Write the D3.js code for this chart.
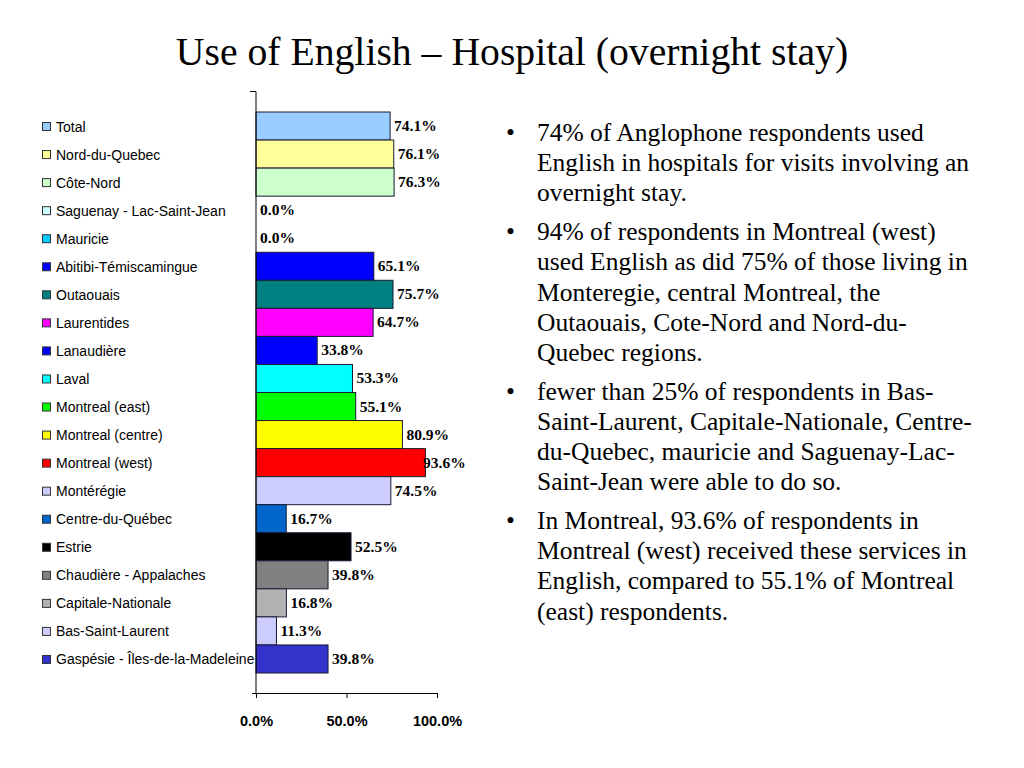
<!DOCTYPE html>
<html lang="en">
<head>
  <meta charset="UTF-8">
  <title>Use of English – Hospital (overnight stay)</title>
  <script src="https://d3js.org/d3.v7.min.js"></script>
  <style>
    body {
      margin: 0;
      overflow: hidden;
      background: #fff;
    }
    svg {
      display: block;
    }
  </style>
</head>
<body>
  <svg id="container"></svg>

  <script>
    // Chart data
    const regions = [
      "Total", "Nord-du-Quebec", "Côte-Nord", "Saguenay - Lac-Saint-Jean", "Mauricie",
      "Abitibi-Témiscamingue", "Outaouais", "Laurentides", "Lanaudière", "Laval",
      "Montreal (east)", "Montreal (centre)", "Montreal (west)", "Montérégie", "Centre-du-Québec",
      "Estrie", "Chaudière - Appalaches", "Capitale-Nationale", "Bas-Saint-Laurent",
      "Gaspésie - Îles-de-la-Madeleine"
    ];
    const values = [
      0.741, 0.761, 0.763, 0.0, 0.0,
      0.651, 0.757, 0.647, 0.338, 0.533,
      0.551, 0.809, 0.936, 0.745, 0.167,
      0.525, 0.398, 0.168, 0.113, 0.398
    ];
    const colors = [
      "#99ccff", "#ffff99", "#ccffcc", "#ccffff", "#00ccff",
      "#0000ff", "#008080", "#ff00ff", "#0000ff", "#00ffff",
      "#00ff00", "#ffff00", "#ff0000", "#ccccff", "#0066cc",
      "#000000", "#808080", "#b2b2b2", "#ccccff", "#3333cc"
    ];
    const xTicks = [0, 0.5, 1];
    const title = "Use of English – Hospital (overnight stay)";
    const bullets = [
      ["74% of Anglophone respondents used", "English in hospitals for visits involving an", "overnight stay."],
      ["94% of respondents in Montreal (west)", "used English as did 75% of those living in", "Monteregie, central Montreal, the", "Outaouais, Cote-Nord and Nord-du-", "Quebec regions."],
      ["fewer than 25% of respondents in Bas-", "Saint-Laurent, Capitale-Nationale, Centre-", "du-Quebec, mauricie and Saguenay-Lac-", "Saint-Jean were able to do so."],
      ["In Montreal, 93.6% of respondents in", "Montreal (west) received these services in", "English, compared to 55.1% of Montreal", "(east) respondents."]
    ];

    const width = 1024;
    const height = 768;
    const serif = "'Liberation Serif', 'Times New Roman', serif";
    const sans = "'Liberation Sans', Arial, sans-serif";

    const svg = d3.select("#container")
                  .attr("width", width)
                  .attr("height", height);

    // Title
    svg.append("text")
       .attr("x", 512)
       .attr("y", 65)
       .attr("text-anchor", "middle")
       .attr("font-family", serif)
       .attr("font-size", 39.7)
       .text(title);

    // Scales
    const x = d3.scaleLinear().domain([0, 1]).range([256, 437]);
    const y = d3.scaleBand().domain(regions).range([112, 673]).padding(0);

    // Bars
    svg.append("g")
       .selectAll("rect")
       .data(regions)
       .join("rect")
       .attr("x", x(0))
       .attr("y", d => y(d))
       .attr("width", (d, i) => x(values[i]) - x(0))
       .attr("height", y.bandwidth())
       .attr("fill", (d, i) => colors[i])
       .attr("stroke", (d, i) => values[i] > 0 ? "#1a1a33" : "none")
       .attr("stroke-width", 1);

    // Value labels
    svg.append("g")
       .selectAll("text")
       .data(regions)
       .join("text")
       .attr("x", (d, i) => Math.min(x(values[i]) + 4, 423))
       .attr("y", d => y(d) + y.bandwidth() / 2 + 5)
       .attr("font-family", serif)
       .attr("font-weight", "bold")
       .attr("font-size", 15.5)
       .text((d, i) => (values[i] * 100).toFixed(1) + "%");

    // Value axis
    const xAxis = d3.axisBottom(x)
                    .tickValues(xTicks)
                    .tickSize(5)
                    .tickFormat(d3.format(".1%"));
    const gx = svg.append("g")
                  .attr("transform", "translate(0,693)")
                  .call(xAxis);
    gx.select(".domain").attr("d", `M${x(0) - 4},0.5H${x(1)}`).attr("stroke", "#000");
    gx.selectAll(".tick line").attr("stroke", "#000");
    gx.selectAll(".tick text")
      .attr("y", 23)
      .attr("font-family", sans)
      .attr("font-weight", "bold")
      .attr("font-size", 14.5)
      .attr("fill", "#000");

    // Category axis line
    svg.append("path")
       .attr("d", `M250,91.5H${x(0)}V693`)
       .attr("fill", "none")
       .attr("stroke", "#000");

    // Legend
    const legend = svg.append("g")
                      .selectAll("g")
                      .data(regions)
                      .join("g")
                      .attr("transform", d => `translate(42,${y(d) + y.bandwidth() / 2})`);
    legend.append("rect")
          .attr("x", 0.5)
          .attr("y", -3.5)
          .attr("width", 8)
          .attr("height", 8)
          .attr("fill", (d, i) => colors[i])
          .attr("stroke", "#333");
    legend.append("text")
          .attr("x", 14)
          .attr("y", 5.5)
          .attr("font-family", sans)
          .attr("font-size", 14)
          .text(d => d);

    // Bullet text
    const tg = svg.append("g")
                  .attr("font-family", serif)
                  .attr("font-size", 25.5);
    let lineY = 141;
    bullets.forEach(par => {
      tg.append("text").attr("x", 506).attr("y", lineY).text("•");
      par.forEach(line => {
        tg.append("text").attr("x", 537).attr("y", lineY).text(line);
        lineY += 30.2;
      });
      lineY += 8.5;
    });
  </script>
</body>
</html>
